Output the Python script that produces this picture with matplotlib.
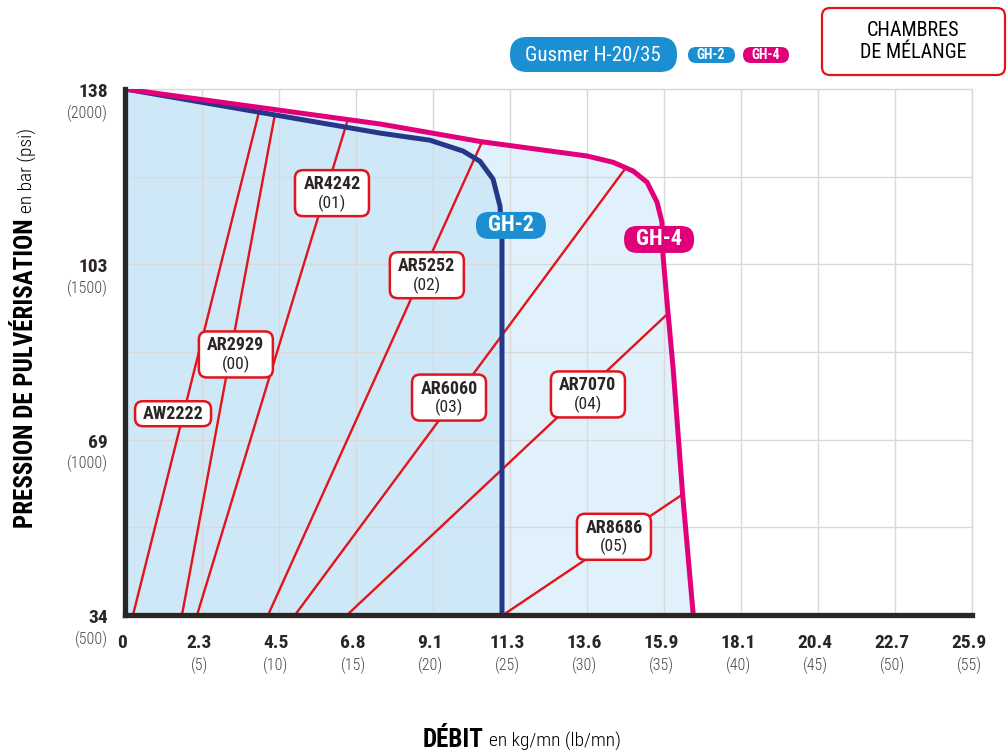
import matplotlib
matplotlib.use("Agg")
import matplotlib.pyplot as plt
import matplotlib.transforms as mtransforms
from matplotlib.patches import FancyBboxPatch

plt.rcParams['font.family'] = ['Roboto Condensed', 'DejaVu Sans']

gh4_debit = [0, 16.6, 23.1, 30.0, 31.7, 33.0, 33.9, 34.55, 34.87, 34.94, 35.2, 35.6, 36.2, 36.9]
gh4_pression = [2000, 1900, 1850, 1809, 1791, 1766, 1734, 1677, 1620, 1523, 1391, 1200, 849, 500]
gh2_debit = [0, 16.6, 19.8, 21.95, 23.05, 23.9, 24.35, 24.48, 24.48]
gh2_pression = [2000, 1874, 1854, 1823, 1794, 1743, 1666, 1580, 500]

buses = ['AW2222', 'AR2929', 'AR4242', 'AR5252', 'AR6060', 'AR7070', 'AR8686']
codes = ['', '(00)', '(01)', '(02)', '(03)', '(04)', '(05)']
buse_debit_bas = [0.52, 3.70, 4.68, 9.29, 11.04, 14.42, 24.55]
buse_debit_haut = [8.70, 9.74, 14.42, 23.18, 32.45, 35.19, 36.17]
buse_pression_haut = [1934, 1929, 1906, 1849, 1771, 1357, 843]
etiquette_debit = [3.12, 7.2, 13.44, 19.6, 21.04, 30.06, 31.75]
etiquette_pression = [1074, 1243, 1703, 1469, 1120, 1129, 723]

ticks_lb = [0, 5, 10, 15, 20, 25, 30, 35, 40, 45, 50, 55]
ticks_kg = ['0', '2.3', '4.5', '6.8', '9.1', '11.3', '13.6', '15.9', '18.1', '20.4', '22.7', '25.9']
ticks_psi = [500, 1000, 1500, 2000]
ticks_bar = ['34', '69', '103', '138']

W, H = 1007, 754
ROUGE = '#e3131b'
MAGENTA = '#e2007a'
MARINE = '#26378a'
BLEU = '#1b8fd1'
NOIR = '#2b2523'
GRIS = '#4a4545'

fig = plt.figure(figsize=(W / 100, H / 100), dpi=100)
ax = fig.add_axes([125 / W, 1 - 615 / H, (972 - 125) / W, (615 - 89) / H])
ax.set_xlim(0, 55)
ax.set_ylim(500, 2000)
ax.set_xticks(ticks_lb)
ax.set_yticks(range(500, 2001, 250))
ax.tick_params(length=0, labelbottom=False, labelleft=False)
ax.grid(color='#d9d9d9', lw=1)
for s in ['top', 'right']:
    ax.spines[s].set_color('#d9d9d9')
    ax.spines[s].set_linewidth(1)
for s in ['left', 'bottom']:
    ax.spines[s].set_color(NOIR)
    ax.spines[s].set_linewidth(3.8)
    ax.spines[s].set_capstyle('projecting')
    ax.spines[s].set_zorder(5)

# zones de fonctionnement (fermées sur l'axe du bas)
ax.fill(gh4_debit + [0], gh4_pression + [500], color='#e1f1fb', zorder=1, lw=0)
ax.fill(gh2_debit + [0], gh2_pression + [500], color='#cfe8f7', zorder=1, lw=0)

# buses
for i in range(len(buses)):
    ax.plot([buse_debit_bas[i], buse_debit_haut[i]], [500, buse_pression_haut[i]],
            color=ROUGE, lw=1.7, zorder=3, solid_capstyle='butt')

ax.plot(gh2_debit, gh2_pression, color=MARINE, lw=3.6, zorder=4, solid_joinstyle='round')
ax.plot(gh4_debit, gh4_pression, color=MAGENTA, lw=3.6, zorder=4, solid_joinstyle='round')

# graduations
for lb, kg in zip(ticks_lb, ticks_kg):
    ax.annotate(kg, xy=(lb, 0), xycoords=('data', 'axes fraction'), xytext=(-3, -28),
                textcoords='offset pixels', ha='center', va='center', fontsize=14,
                fontweight='bold', color=NOIR)
    if lb > 0:
        ax.annotate(f'({lb})', xy=(lb, 0), xycoords=('data', 'axes fraction'), xytext=(-3, -50),
                    textcoords='offset pixels', ha='center', va='center', fontsize=11.5,
                    fontweight='light', color=GRIS)
for psi, bar in zip(ticks_psi, ticks_bar):
    ax.annotate(bar, xy=(0, psi), xycoords=('axes fraction', 'data'), xytext=(-17, -3),
                textcoords='offset pixels', ha='right', va='center', fontsize=14,
                fontweight='bold', color=NOIR)
    ax.annotate(f'({psi})', xy=(0, psi), xycoords=('axes fraction', 'data'), xytext=(-17, -24),
                textcoords='offset pixels', ha='right', va='center', fontsize=11.5,
                fontweight='light', color=GRIS)


def boite(x0, y0, x1, y1, face, edge=None, lw=0, r=8):
    p = FancyBboxPatch((x0, H - y1), x1 - x0, y1 - y0,
                       boxstyle=f'round,pad=0,rounding_size={r}',
                       transform=mtransforms.IdentityTransform(),
                       fc=face, ec=edge if edge else face, lw=lw, zorder=6)
    fig.add_artist(p)


def texte(x, y, s, **kw):
    fig.text(x / W, 1 - y / H, s, ha='center', va='center', zorder=7, **kw)


def en_pixels(lb, psi):
    d = ax.transData.transform((lb, psi))
    return d[0], H - d[1]


# étiquettes des buses
for i in range(len(buses)):
    cx, cy = en_pixels(etiquette_debit[i], etiquette_pression[i])
    if codes[i]:
        boite(cx - 37, cy - 23, cx + 37, cy + 23, 'white', ROUGE, 1.8, 8)
        texte(cx, cy - 9, buses[i], fontsize=13, fontweight='bold', color=NOIR)
        texte(cx, cy + 10, codes[i], fontsize=12.5, color=NOIR)
    else:
        boite(cx - 38, cy - 12.5, cx + 38, cy + 12.5, 'white', ROUGE, 1.8, 8)
        texte(cx, cy, buses[i], fontsize=13, fontweight='bold', color=NOIR)

# repères des chambres sur les courbes
for nom, lb, psi, coul in [('GH-2', 25.06, 1611, BLEU), ('GH-4', 34.68, 1571, MAGENTA)]:
    cx, cy = en_pixels(lb, psi)
    boite(cx - 35, cy - 13.5, cx + 35, cy + 13.5, coul, r=13)
    texte(cx, cy, nom, fontsize=16, fontweight='bold', color='white')

# en-tête
boite(510, 37, 677, 72, BLEU, r=17)
texte(593, 55, 'Gusmer H-20/35', fontsize=15, color='white')
boite(688, 47, 735, 63, BLEU, r=8)
texte(711, 55, 'GH-2', fontsize=10, fontweight='bold', color='white')
boite(743, 47, 789, 63, MAGENTA, r=8)
texte(766, 55, 'GH-4', fontsize=10, fontweight='bold', color='white')
boite(822, 8, 1005, 75, 'white', ROUGE, 1.6, 8)
texte(913, 41, 'CHAMBRES\nDE MÉLANGE', fontsize=14.5, color='black', linespacing=1.2)

# titres des axes
rend = fig.canvas.get_renderer()
t1 = fig.text(423 / W, 1 - 747 / H, 'DÉBIT', fontsize=18, fontweight='bold', color='black',
              ha='left', va='baseline')
bb = t1.get_window_extent(rend)
fig.text((bb.x1 + 5) / W, 1 - 747 / H, 'en kg/mn (lb/mn)', fontsize=14, fontweight='light',
         color='black', ha='left', va='baseline')

t2 = fig.text(33 / W, 1 - 528 / H, 'PRESSION DE PULVÉRISATION', fontsize=18, fontweight='bold',
              color='black', ha='left', va='baseline', rotation=90, rotation_mode='anchor')
bb = t2.get_window_extent(rend)
fig.text(33 / W, (bb.y1 + 5) / H, 'en bar (psi)', fontsize=14, fontweight='light', color='black',
         ha='left', va='baseline', rotation=90, rotation_mode='anchor')

fig.savefig('out.png', dpi=100)
